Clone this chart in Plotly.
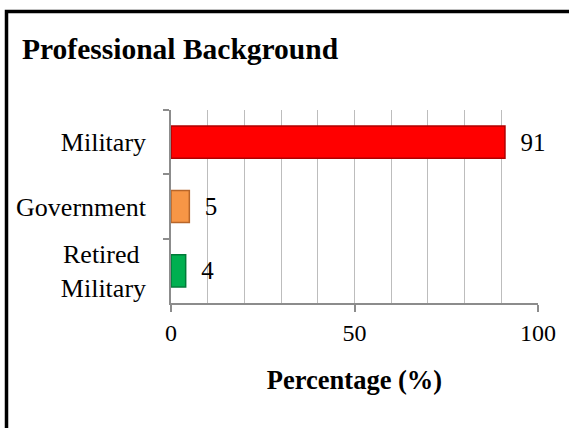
import plotly.graph_objects as go

categories = ["Military", "Government", "Retired\u00a0<br>Military"]
values = [91, 5, 4]
colors = ["#ff0000", "#f79646", "#00b050"]
edge_colors = ["#b00000", "#b8662a", "#007a38"]
x_ticks = [0, 50, 100]

W, H = 569, 428
L, R, T, B = 171, 31, 110, 125
pw, ph = W - L - R, H - T - B

def px_to_paper_x(p):
    return (p - L) / pw

def px_to_paper_y(p):
    return (H - B - p) / ph

FONT = "Liberation Serif, Times New Roman, serif"
PAD = "\u00a0\u00a0"

fig = go.Figure(go.Bar(
    x=values, y=categories, orientation="h",
    marker=dict(color=colors, line=dict(color=edge_colors, width=1.5)),
    text=[PAD + str(v) for v in values], textposition="outside",
    textfont=dict(family=FONT, size=25, color="black"),
    cliponaxis=False, width=0.5,
))

fig.update_layout(
    width=W, height=H,
    margin=dict(l=L, r=R, t=T, b=B, pad=0),
    paper_bgcolor="white", plot_bgcolor="white",
    showlegend=False,
    font=dict(family=FONT, size=24, color="black"),
    title=dict(text="<b>Professional Background</b>", x=22 / W, xanchor="left",
               y=1 - 49 / H, yanchor="middle",
               font=dict(family=FONT, size=29.5, color="black")),
    xaxis=dict(range=[0, 100], tickvals=x_ticks, showgrid=True, gridcolor="#bdbdbd", gridwidth=1,
               minor=dict(dtick=10, showgrid=True, gridcolor="#bdbdbd", gridwidth=1),
               showline=True, linecolor="#8c8c8c", linewidth=1.5,
               ticks="outside", ticklen=7, tickcolor="#8c8c8c", tickwidth=1.5,
               zeroline=False,
               tickfont=dict(family=FONT, size=24, color="black"),
               title=dict(text="<b>Percentage (%)</b>", standoff=26,
                          font=dict(family=FONT, size=26.5, color="black"))),
    yaxis=dict(autorange="reversed", showline=True, linecolor="#8c8c8c", linewidth=1.5,
               ticks="outside", tickson="boundaries", ticklen=6, tickcolor="#8c8c8c", tickwidth=1.5,
               showgrid=False, ticklabelstandoff=18,
               tickfont=dict(family=FONT, size=26, color="black")),
    bargap=0.5,
)

fig.add_shape(type="rect", xref="paper", yref="paper",
              x0=px_to_paper_x(6.5), y0=px_to_paper_y(470),
              x1=px_to_paper_x(620), y1=px_to_paper_y(11.5),
              line=dict(color="black", width=3.5), fillcolor="rgba(0,0,0,0)", layer="above")

fig.write_html("out.html", config={"displayModeBar": False},
               post_script="document.body.style.margin='0';document.body.style.overflow='hidden';")
